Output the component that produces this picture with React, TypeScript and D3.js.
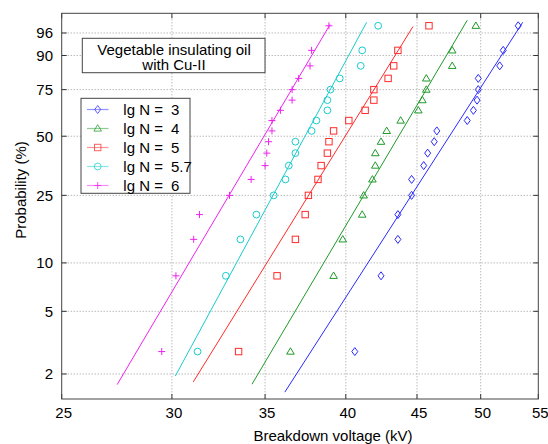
import React from "react";
import * as d3 from "d3";

// Probability levels (%) of the ranked points
const PROB = [2.78, 8.33, 13.89, 19.44, 25.0, 30.56, 36.11, 41.67, 47.22, 52.78, 58.33, 63.89, 69.44, 75.0, 80.56, 86.11, 91.67, 97.22];

// Breakdown voltages (kV), ascending
const LG3 = [40.6, 42.4, 43.6, 43.6, 44.6, 44.6, 45.5, 45.8, 46.3, 46.5, 48.9, 49.4, 49.7, 49.8, 49.8, 51.6, 51.9, 53.2];
const LG4 = [36.5, 39.2, 39.8, 41.1, 41.2, 41.8, 42.0, 42.0, 42.4, 42.8, 43.8, 45.1, 45.4, 45.7, 45.7, 47.7, 47.7, 49.6];
const LG5 = [33.5, 35.7, 36.8, 37.4, 37.6, 38.2, 38.4, 38.8, 38.9, 39.2, 40.2, 41.3, 41.9, 41.9, 42.9, 43.3, 43.6, 45.9];
const LG57 = [31.3, 32.8, 33.6, 34.5, 35.5, 36.2, 36.4, 36.8, 36.8, 37.8, 38.1, 38.8, 38.8, 39.0, 39.6, 41.0, 41.1, 42.2];
const LG6 = [29.5, 30.2, 31.1, 31.4, 33.0, 34.2, 35.0, 35.1, 35.2, 35.4, 35.4, 35.9, 36.6, 36.6, 37.0, 37.7, 37.8, 38.9];

// Fitted Weibull lines: [voltage low, prob low %, voltage high, prob high %]
const FIT3 = [36.16, 1.53, 53.6, 97.7];
const FIT4 = [34.25, 1.72, 48.9, 97.95];
const FIT5 = [31.08, 1.78, 44.7, 97.1];
const FIT57 = [30.17, 1.94, 41.4, 97.7];
const FIT6 = [27.4, 1.71, 38.97, 97.4];

const LABELS = ["3", "4", "5", "5.7", "6"];
const X_TICKS = [25, 30, 35, 40, 45, 50, 55];
const Y_TICKS = [2, 5, 10, 25, 50, 75, 90, 96];
const X_DOMAIN = [25, 55];
const Y_DOMAIN = [1.383, 98.66];

const SERIES = [
  { label: LABELS[0], values: LG3, fit: FIT3, color: "#2a2aff", marker: "diamond" },
  { label: LABELS[1], values: LG4, fit: FIT4, color: "#1f9a2a", marker: "triangle" },
  { label: LABELS[2], values: LG5, fit: FIT5, color: "#ff2b2b", marker: "square" },
  { label: LABELS[3], values: LG57, fit: FIT57, color: "#18cccc", marker: "circle" },
  { label: LABELS[4], values: LG6, fit: FIT6, color: "#ee22ee", marker: "plus" },
];

const W = 548, H = 444;
const L = 61.7, R = 538.3, T = 13.3, B = 399;
const FONT = "'Liberation Sans', Arial, sans-serif";

const weib = (p: number) => Math.log(-Math.log(1 - p / 100));

function Marker({ type, x, y, color }: { type: string; x: number; y: number; color: string }) {
  const s = { fill: "none", stroke: color, strokeWidth: 1 } as any;
  if (type === "diamond")
    return <path d={`M${x},${y - 4}L${x + 3},${y}L${x},${y + 4}L${x - 3},${y}Z`} {...s} />;
  if (type === "triangle")
    return <path d={`M${x},${y - 3.8}L${x + 3.8},${y + 2.6}L${x - 3.8},${y + 2.6}Z`} {...s} />;
  if (type === "square")
    return <rect x={x - 3.2} y={y - 3.2} width={6.4} height={6.4} {...s} />;
  if (type === "circle") return <circle cx={x} cy={y} r={3.4} {...s} />;
  return <path d={`M${x - 3.5},${y}H${x + 3.5}M${x},${y - 3.5}V${y + 3.5}`} {...s} />;
}

export default function App() {
  const x = d3.scaleLog().domain(X_DOMAIN).range([L, R]);
  const y = d3.scaleLinear().domain([weib(Y_DOMAIN[0]), weib(Y_DOMAIN[1])]).range([B, T]);
  const py = (p: number) => y(weib(p));
  const line = d3
    .line<[number, number]>()
    .x((d) => x(d[0]))
    .y((d) => py(d[1]));

  const legX = 81, legY = 98.3, legW = 109, legH = 95;

  return (
    <svg
      width={W}
      height={H}
      style={{ position: "absolute", left: 0, top: 0, background: "#fff" }}
      fontFamily={FONT}
    >
      <rect x={0} y={0} width={W} height={H} fill="#fff" />
      {/* grid */}
      <g stroke="#9a9a9a" strokeWidth={1} strokeDasharray="1 2">
        {X_TICKS.filter((t) => t > X_DOMAIN[0] && t < X_DOMAIN[1]).map((t) => (
          <line key={"gx" + t} x1={x(t)} x2={x(t)} y1={T} y2={B} />
        ))}
        {Y_TICKS.map((t) => (
          <line key={"gy" + t} x1={L} x2={R} y1={py(t)} y2={py(t)} />
        ))}
      </g>
      {/* ticks */}
      <g stroke="#333" strokeWidth={1}>
        {X_TICKS.map((t) => (
          <g key={"tx" + t}>
            <line x1={x(t)} x2={x(t)} y1={B} y2={B - 5} />
            <line x1={x(t)} x2={x(t)} y1={T} y2={T + 5} />
          </g>
        ))}
        {Y_TICKS.map((t) => (
          <g key={"ty" + t}>
            <line x1={L} x2={L + 5} y1={py(t)} y2={py(t)} />
            <line x1={R} x2={R - 5} y1={py(t)} y2={py(t)} />
          </g>
        ))}
      </g>
      {/* fit lines */}
      {SERIES.map((s) => (
        <path
          key={"l" + s.label}
          d={line([[s.fit[0], s.fit[1]], [s.fit[2], s.fit[3]]]) || ""}
          fill="none"
          stroke={s.color}
          strokeWidth={1}
        />
      ))}
      {/* points */}
      {SERIES.map((s) =>
        s.values.map((v, i) => (
          <Marker key={s.label + "-" + i} type={s.marker} x={x(v)} y={py(PROB[i])} color={s.color} />
        ))
      )}
      {/* frame */}
      <rect x={L} y={T} width={R - L} height={B - T} fill="none" stroke="#444" strokeWidth={1} />
      {/* tick labels */}
      <g fontSize={15} fill="#000">
        {X_TICKS.map((t) => (
          <text key={"xl" + t} x={x(t) + 2} y={417.5} textAnchor="middle">
            {t}
          </text>
        ))}
        {Y_TICKS.map((t) => (
          <text key={"yl" + t} x={53} y={py(t) + 5.3} textAnchor="end">
            {t}
          </text>
        ))}
      </g>
      {/* axis titles */}
      <text x={333} y={440.5} fontSize={15} textAnchor="middle">
        Breakdown voltage (kV)
      </text>
      <text transform="translate(25.5,190) rotate(-90)" fontSize={15} textAnchor="middle">
        Probability (%)
      </text>
      {/* title box */}
      <rect x={82.3} y={38.3} width={182.7} height={34.4} fill="#fff" stroke="#444" strokeWidth={1} />
      <text x={174} y={54.5} fontSize={15} textAnchor="middle">
        Vegetable insulating oil
      </text>
      <text x={174} y={70.2} fontSize={15} textAnchor="middle">
        with Cu-II
      </text>
      {/* legend */}
      <rect x={legX} y={legY} width={legW} height={legH} fill="#fff" stroke="#444" strokeWidth={1} />
      {SERIES.map((s, i) => {
        const cy = 109.5 + i * 19;
        return (
          <g key={"leg" + s.label}>
            <line x1={87} x2={108.5} y1={cy} y2={cy} stroke={s.color} strokeOpacity={0.5} strokeWidth={1.2} />
            <g opacity={0.75}>
              <Marker type={s.marker} x={97.7} y={cy} color={s.color} />
            </g>
            <text x={123.3} y={cy + 5.3} fontSize={15}>
              lg N =
            </text>
            <text x={171} y={cy + 5.3} fontSize={15}>
              {s.label}
            </text>
          </g>
        );
      })}
    </svg>
  );
}
